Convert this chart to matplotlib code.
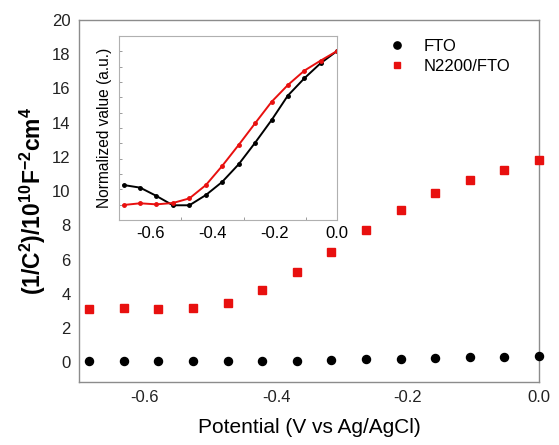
import numpy as np
import matplotlib
matplotlib.use("Agg")
import matplotlib.pyplot as plt
from matplotlib.ticker import MultipleLocator, NullFormatter

plt.rcParams['font.family'] = ['Liberation Sans', 'DejaVu Sans']
plt.rcParams['mathtext.fontset'] = 'custom'
plt.rcParams['mathtext.rm'] = 'Liberation Sans'
plt.rcParams['mathtext.bf'] = 'Liberation Sans:bold'

# potential values (V vs Ag/AgCl)
potential = [-0.685, -0.632, -0.580, -0.527, -0.474, -0.421, -0.369,
             -0.316, -0.263, -0.210, -0.158, -0.105, -0.053, 0.0]

# Mott-Schottky data, 1/C^2 in 1e10 F^-2 cm^4
fto = [0.10, 0.10, 0.06, 0.05, 0.05, 0.06, 0.10,
       0.12, 0.17, 0.22, 0.27, 0.30, 0.32, 0.35]
n2200 = [3.10, 3.17, 3.12, 3.20, 3.45, 4.22, 5.30,
         6.45, 7.72, 8.92, 9.90, 10.65, 11.25, 11.80]

# normalized curves for the inset
fto_norm = [0.228, 0.211, 0.157, 0.096, 0.096, 0.163, 0.248,
            0.363, 0.504, 0.652, 0.811, 0.924, 1.022, 1.102]
n2200_norm = [0.098, 0.109, 0.102, 0.111, 0.141, 0.228, 0.352,
              0.489, 0.631, 0.771, 0.880, 0.974, 1.039, 1.102]

red = '#e8100f'
spine_col = '#8c8c8c'

fig = plt.figure(figsize=(5.59, 4.45), dpi=100)
ax = fig.add_axes([0.1413, 0.1416, 0.8229, 0.8134])

ax.plot(potential, fto, 'o', color='black', markersize=5.8, label='FTO',
        clip_on=False, zorder=3)
ax.plot(potential, n2200, 's', color=red, markersize=5.2, label='N2200/FTO',
        clip_on=False, zorder=3)

ax.set_xlim(-0.7, 0.0)
ax.set_ylim(-1.15, 20)
ax.set_xticks([-0.6, -0.4, -0.2, 0.0])
ax.set_xticklabels(['-0.6', '-0.4', '-0.2', '0.0'])
ax.set_yticks(range(0, 21, 2))
ax.tick_params(length=0, labelsize=12, colors='#222222')
ax.tick_params(axis='x', pad=6)
ax.tick_params(axis='y', pad=6)
for s in ax.spines.values():
    s.set_color(spine_col)
    s.set_linewidth(1.0)

ax.set_xlabel('Potential (V vs Ag/AgCl)', fontsize=15, labelpad=9)
ax.set_ylabel(r'$\mathbf{(1/C^2)/10^{10}F^{-2}cm^4}$', fontsize=16.5, labelpad=3)

ax.legend(loc='upper right', frameon=False, fontsize=12,
          bbox_to_anchor=(0.97, 0.99), handletextpad=0.6, labelspacing=0.3,
          markerscale=0.9)

# inset
ins = fig.add_axes([0.2129, 0.5056, 0.39, 0.4135])
ins.plot(potential, fto_norm, '-o', color='black', markersize=2.5, linewidth=1.4)
ins.plot(potential, n2200_norm, '-o', color=red, markersize=2.5, linewidth=1.4)
ins.set_xlim(-0.7, 0.0)
ins.set_ylim(0, 1.2)
ins.set_xticks([-0.6, -0.4, -0.2, 0.0])
ins.set_xticklabels(['-0.6', '-0.4', '-0.2', '0.0'])
ins.xaxis.set_minor_locator(MultipleLocator(0.1))
ins.yaxis.set_major_locator(MultipleLocator(0.1))
ins.yaxis.set_major_formatter(NullFormatter())
ins.tick_params(which='both', direction='in', length=2.5, width=0.6,
                color=spine_col, labelsize=12, pad=4)
ins.tick_params(axis='x', which='major', length=0)
ins.set_ylabel('Normalized value (a.u.)', fontsize=11.2, labelpad=1)
for s in ins.spines.values():
    s.set_color('#b0b0b0')
    s.set_linewidth(0.8)

fig.savefig('out.png', dpi=100)
